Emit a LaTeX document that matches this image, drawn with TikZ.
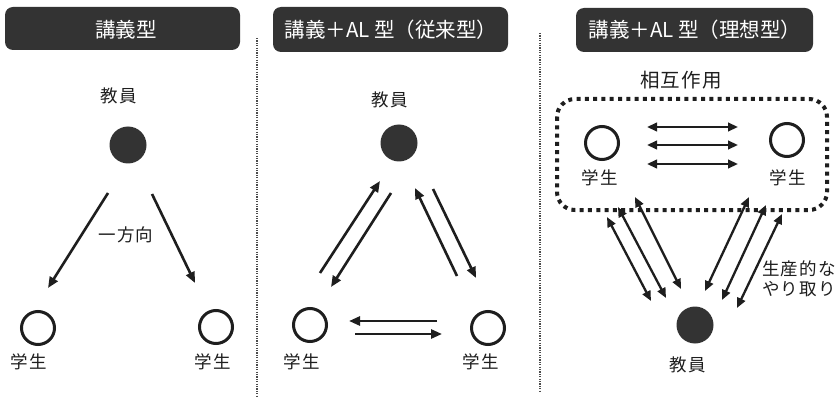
\documentclass[tikz,border=0pt]{standalone}
\usepackage{fontspec}
\setmainfont{Noto Sans CJK JP}
\usetikzlibrary{arrows.meta}
\definecolor{ink}{HTML}{1E1E1E}
\definecolor{dark}{HTML}{333333}
\begin{document}
\begin{tikzpicture}[x=1pt,y=-1pt,
  titlebox/.style={fill=dark,rounded corners=8pt,inner sep=0pt},
  titletext/.style={text=white,font=\fontsize{20.5}{22}\selectfont,inner sep=0pt},
  lbl/.style={text=ink,font=\fontsize{17.5}{20}\selectfont\addfontfeature{LetterSpace=6},inner sep=0pt},
  teacher/.style={circle,fill=dark,minimum size=37pt,inner sep=0pt},
  student/.style={circle,draw=ink,line width=3pt,minimum size=33pt,inner sep=0pt},
  onearrow/.style={draw=ink,line width=2.6pt,-{Triangle[length=11pt,width=9pt]}},
  bothways/.style={draw=ink,line width=2.3pt,{Triangle[length=10pt,width=8.5pt]}-{Triangle[length=10pt,width=8.5pt]}},
  divider/.style={draw=ink!80,line width=1.4pt,dash pattern=on 1.2pt off 1.2pt}
]
\useasboundingbox (0,0) rectangle (837,398);
\fill[white] (0,0) rectangle (837,398);

% dividers
\coordinate (d1t) at (257,38); \coordinate (d1b) at (257,398);
\coordinate (d2t) at (540,33); \coordinate (d2b) at (540,392);
\draw[divider] (d1t) -- (d1b);
\draw[divider] (d2t) -- (d2b);

% ---------------- panel 1
\fill[titlebox] (5,7) rectangle (240,50);
\node[titletext] (t1) at (126,30) {講義型};
\node[lbl] (p1lab) at (119,96) {教員};
\node[teacher] (p1t) at (128,145) {};
\node[student] (p1s1) at (38,328) {};
\node[student] (p1s2) at (216,327) {};
\node[lbl] (p1l1) at (29,362) {学生};
\node[lbl] (p1l2) at (213,362) {学生};
\coordinate (p1a1s) at (108,193); \coordinate (p1a1e) at (48,288);
\coordinate (p1a2s) at (152,194); \coordinate (p1a2e) at (195,283);
\draw[onearrow] (p1a1s) -- (p1a1e);
\draw[onearrow] (p1a2s) -- (p1a2e);
\node[lbl] (p1dir) at (126,235) {一方向};

% ---------------- panel 2
\fill[titlebox] (273,7) rectangle (508,52);
\node[titletext] (t2) at (391,30) {講義＋AL 型（従来型）};
\node[lbl] (p2lab) at (390,100) {教員};
\node[teacher] (p2t) at (399,143) {};
\node[student] (p2s1) at (310,325) {};
\node[student] (p2s2) at (488,328) {};
\node[lbl] (p2l1) at (302,362) {学生};
\node[lbl] (p2l2) at (481,362) {学生};
\coordinate (p2a1s) at (320,273); \coordinate (p2a1e) at (380,181);
\coordinate (p2a2s) at (391,193); \coordinate (p2a2e) at (331,287);
\coordinate (p2a3s) at (457,276); \coordinate (p2a3e) at (415,188);
\coordinate (p2a4s) at (433,189); \coordinate (p2a4e) at (476,278);
\coordinate (p2a5s) at (437,321); \coordinate (p2a5e) at (349,321);
\coordinate (p2a6s) at (355,334); \coordinate (p2a6e) at (442,334);
\draw[onearrow] (p2a1s) -- (p2a1e);
\draw[onearrow] (p2a2s) -- (p2a2e);
\draw[onearrow] (p2a3s) -- (p2a3e);
\draw[onearrow] (p2a4s) -- (p2a4e);
\draw[onearrow] (p2a5s) -- (p2a5e);
\draw[onearrow] (p2a6s) -- (p2a6e);

% ---------------- panel 3
\fill[titlebox] (576,8) rectangle (813,52);
\node[titletext] (t3) at (695,30) {講義＋AL 型（理想型）};
\node[lbl,font=\fontsize{19.5}{21}\selectfont\addfontfeature{LetterSpace=6}] (p3int) at (681,80) {相互作用};
\draw[ink,line width=4pt,dash pattern=on 4pt off 4.3pt,rounded corners=18pt] (557,99) rectangle (827,210);
\node[student] (p3s1) at (602,143) {};
\node[student] (p3s2) at (787,140) {};
\node[lbl] (p3l1) at (600,178) {学生};
\node[lbl] (p3l2) at (788,178) {学生};
\coordinate (h1s) at (647,127); \coordinate (h1e) at (738,127);
\coordinate (h2s) at (647,145); \coordinate (h2e) at (738,145);
\coordinate (h3s) at (647,164); \coordinate (h3e) at (738,164);
\draw[bothways] (h1s) -- (h1e);
\draw[bothways] (h2s) -- (h2e);
\draw[bothways] (h3s) -- (h3e);
\node[teacher] (p3t) at (695,325) {};
\node[lbl] (p3lab) at (688,365) {教員};
\coordinate (b1s) at (607,217); \coordinate (b1e) at (651,301);
\coordinate (b2s) at (618,207); \coordinate (b2e) at (666,298);
\coordinate (b3s) at (635,197); \coordinate (b3e) at (681,289);
\coordinate (b4s) at (749,197); \coordinate (b4e) at (705,291);
\coordinate (b5s) at (766,205); \coordinate (b5e) at (722,300);
\coordinate (b6s) at (782,214); \coordinate (b6e) at (737,308);
\draw[bothways] (b1s) -- (b1e);
\draw[bothways] (b2s) -- (b2e);
\draw[bothways] (b3s) -- (b3e);
\draw[bothways] (b4s) -- (b4e);
\draw[bothways] (b5s) -- (b5e);
\draw[bothways] (b6s) -- (b6e);
\node[lbl,align=center] (p3prod) at (799,279) {生産的な\\やり取り};
\end{tikzpicture}
\end{document}
